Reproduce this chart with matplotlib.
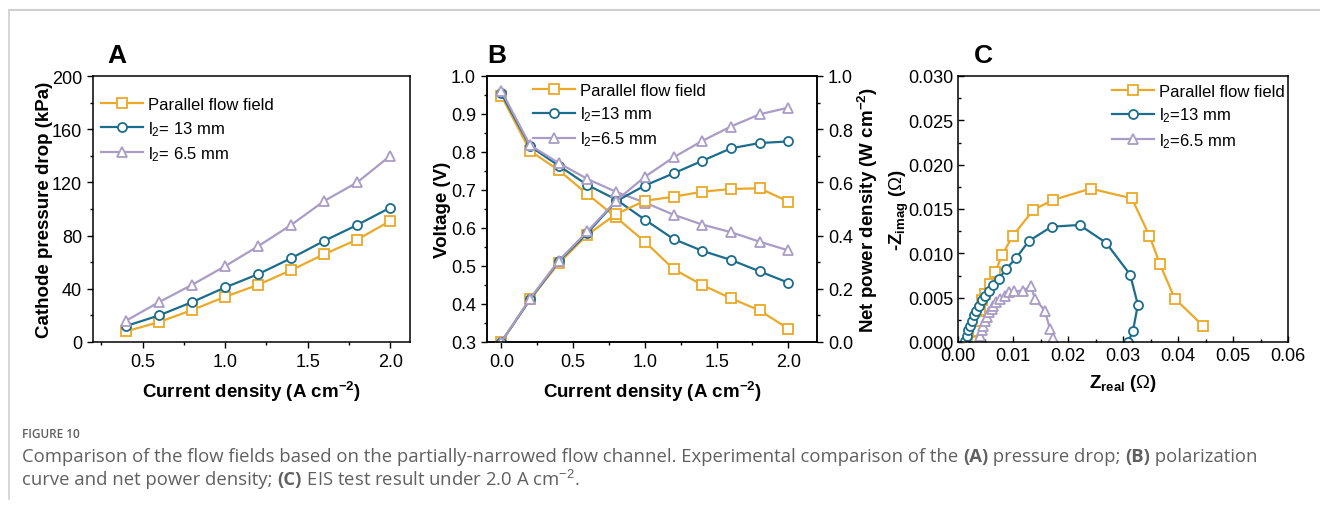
import matplotlib
matplotlib.use("Agg")
import matplotlib.pyplot as plt
from matplotlib.ticker import MultipleLocator
from matplotlib.lines import Line2D

plt.rcParams.update({
    "font.family": ["Liberation Sans", "DejaVu Sans"],
    "font.size": 11.5,
    "mathtext.fontset": "custom",
    "mathtext.rm": "Liberation Sans",
    "mathtext.bf": "Liberation Sans:bold",
    "mathtext.it": "Liberation Sans:italic",
    "axes.linewidth": 1.1,
    "lines.linewidth": 1.6,
    "lines.markersize": 6.5,
    "lines.markeredgewidth": 1.3,
})

C_PAR = "#EAA928"
C_13 = "#1C6D8C"
C_65 = "#A99CC6"

LABELS_A = ["Parallel flow field", "l$_2$= 13 mm", "l$_2$= 6.5 mm"]
LABELS_BC = ["Parallel flow field", "l$_2$=13 mm", "l$_2$=6.5 mm"]

# (A) cathode pressure drop, kPa
cur_a = [0.4, 0.6, 0.8, 1.0, 1.2, 1.4, 1.6, 1.8, 2.0]
dp_par = [8, 15, 24, 34, 43, 54, 66, 77, 91]
dp_13 = [12, 20, 30, 41, 51, 63, 76, 88, 101]
dp_65 = [16, 30, 43, 57, 72, 88, 106, 120, 140]

# (B) polarization + net power density
cur_b = [0.0, 0.2, 0.4, 0.6, 0.8, 1.0, 1.2, 1.4, 1.6, 1.8, 2.0]
v_par = [0.948, 0.803, 0.752, 0.689, 0.628, 0.564, 0.492, 0.450, 0.415, 0.383, 0.335]
v_13 = [0.954, 0.815, 0.764, 0.713, 0.675, 0.622, 0.571, 0.540, 0.516, 0.486, 0.456]
v_65 = [0.961, 0.818, 0.771, 0.729, 0.695, 0.667, 0.635, 0.609, 0.589, 0.564, 0.541]
p_par = [0.0, 0.160, 0.296, 0.403, 0.481, 0.531, 0.546, 0.565, 0.575, 0.578, 0.528]
p_13 = [0.0, 0.160, 0.303, 0.410, 0.529, 0.588, 0.634, 0.681, 0.728, 0.748, 0.754]
p_65 = [0.0, 0.163, 0.306, 0.416, 0.531, 0.621, 0.694, 0.756, 0.810, 0.856, 0.881]

# (C) EIS Nyquist at 2.0 A cm-2
zr_par = [0.0035, 0.0036, 0.0038, 0.0040, 0.0043, 0.0049, 0.0059, 0.0068, 0.0080, 0.0100,
          0.0137, 0.0172, 0.0241, 0.0316, 0.0348, 0.0367, 0.0394, 0.0446]
zi_par = [0.0000, 0.0012, 0.0024, 0.0036, 0.0047, 0.0054, 0.0065, 0.0079, 0.0098, 0.0120,
          0.0149, 0.0160, 0.0173, 0.0162, 0.0120, 0.0088, 0.0049, 0.0018]
zr_13 = [0.0013, 0.0016, 0.0019, 0.0022, 0.0025, 0.0029, 0.0033, 0.0038, 0.0043, 0.0049,
         0.0056, 0.0064, 0.0074, 0.0087, 0.0106, 0.0129, 0.0170, 0.0221, 0.0269, 0.0313,
         0.0327, 0.0318, 0.0309]
zi_13 = [0.0001, 0.0007, 0.0013, 0.0018, 0.0024, 0.0030, 0.0035, 0.0041, 0.0047, 0.0052,
         0.0058, 0.0064, 0.0071, 0.0082, 0.0095, 0.0114, 0.0130, 0.0132, 0.0112, 0.0076,
         0.0042, 0.0012, 0.0000]
zr_65 = [0.0040, 0.0043, 0.0046, 0.0049, 0.0052, 0.0057, 0.0061, 0.0064, 0.0070, 0.0076,
         0.0086, 0.0092, 0.0101, 0.0119, 0.0132, 0.0140, 0.0158, 0.0167, 0.0173]
zi_65 = [0.0007, 0.0013, 0.0018, 0.0024, 0.0028, 0.0034, 0.0037, 0.0041, 0.0045, 0.0049,
         0.0052, 0.0056, 0.0057, 0.0058, 0.0063, 0.0049, 0.0035, 0.0015, 0.0005]

W, H = 1320, 506
fig = plt.figure(figsize=(W / 100, H / 100), dpi=100)


def box(l, r, t=77, b=343):
    return [l / W, 1 - b / H, (r - l) / W, (b - t) / H]


def style(ax, direction="out"):
    ax.tick_params(which="both", direction=direction, width=1.0, labelsize=13)
    ax.tick_params(which="major", length=4.5)
    ax.tick_params(which="minor", length=2.5)


def series(ax, x, y, color, marker, label=None):
    ax.plot(x, y, color=color, marker=marker, mfc="white", mec=color, label=label)


def legend(ax, labels, **kw):
    handles = [Line2D([], [], color=c, marker=m, mfc="white", mec=c)
               for c, m in [(C_PAR, "s"), (C_13, "o"), (C_65, "^")]]
    ax.legend(handles, labels, frameon=False, fontsize=12, handlelength=2.5,
              handletextpad=0.3, labelspacing=0.4, borderaxespad=0.0, **kw)


bold = dict(fontweight="bold", fontsize=13.5)

# A
axA = fig.add_axes(box(93, 410))
series(axA, cur_a, dp_par, C_PAR, "s")
series(axA, cur_a, dp_13, C_13, "o")
series(axA, cur_a, dp_65, C_65, "^")
axA.set_xlim(0.2, 2.12)
axA.set_ylim(0, 200)
axA.xaxis.set_major_locator(MultipleLocator(0.5))
axA.xaxis.set_minor_locator(MultipleLocator(0.25))
axA.yaxis.set_major_locator(MultipleLocator(40))
axA.yaxis.set_minor_locator(MultipleLocator(20))
style(axA)
axA.set_xlabel(r"Current density (A cm$^{\mathbf{-2}}$)", labelpad=6, **bold)
axA.set_ylabel("Cathode pressure drop (kPa)", labelpad=-1, **bold)
legend(axA, LABELS_A, loc="upper left", bbox_to_anchor=(0.005, 0.945))

# B
axB = fig.add_axes(box(487, 817))
axB2 = axB.twinx()
series(axB, cur_b, v_par, C_PAR, "s")
series(axB, cur_b, v_13, C_13, "o")
series(axB, cur_b, v_65, C_65, "^")
series(axB2, cur_b, p_par, C_PAR, "s")
series(axB2, cur_b, p_13, C_13, "o")
series(axB2, cur_b, p_65, C_65, "^")
axB.set_xlim(-0.1, 2.2)
axB.set_ylim(0.3, 1.0)
axB2.set_ylim(0.0, 1.0)
axB.xaxis.set_major_locator(MultipleLocator(0.5))
axB.xaxis.set_minor_locator(MultipleLocator(0.25))
axB.yaxis.set_major_locator(MultipleLocator(0.1))
axB.yaxis.set_minor_locator(MultipleLocator(0.05))
axB2.yaxis.set_major_locator(MultipleLocator(0.2))
axB2.yaxis.set_minor_locator(MultipleLocator(0.1))
style(axB)
style(axB2)
axB.set_xlabel(r"Current density (A cm$^{\mathbf{-2}}$)", labelpad=6, **bold)
axB.set_ylabel("Voltage (V)", labelpad=0, **bold)
axB2.set_ylabel(r"Net power density (W cm$^{\mathbf{-2}}$)", labelpad=2, **bold)
legend(axB, LABELS_BC, loc="upper left", bbox_to_anchor=(0.12, 1.0))

# C
axC = fig.add_axes(box(958, 1288))
series(axC, zr_par, zi_par, C_PAR, "s")
series(axC, zr_13, zi_13, C_13, "o")
series(axC, zr_65, zi_65, C_65, "^")
axC.set_xlim(0, 0.06)
axC.set_ylim(0, 0.03)
axC.xaxis.set_major_locator(MultipleLocator(0.01))
axC.xaxis.set_minor_locator(MultipleLocator(0.005))
axC.yaxis.set_major_locator(MultipleLocator(0.005))
axC.yaxis.set_minor_locator(MultipleLocator(0.0025))
axC.xaxis.set_major_formatter(lambda v, p: f"{v:.2f}")
axC.yaxis.set_major_formatter(lambda v, p: f"{v:.3f}")
style(axC, "in")
axC.set_xlabel(r"Z$_{\mathbf{real}}$ ($\Omega$)", labelpad=6, **bold)
axC.set_ylabel(r"-Z$_{\mathbf{imag}}$ ($\Omega$)", labelpad=-2, **bold)
legend(axC, LABELS_BC, loc="upper right", bbox_to_anchor=(1.01, 0.995))

for x, s in [(117, "A"), (497, "B"), (983, "C")]:
    fig.text(x / W, 1 - 56 / H, s, fontsize=19, fontweight="bold", ha="center", va="center")

# page frame lines
fig.add_artist(Line2D([9 / W, 1], [1 - 11 / H] * 2, color="#d0d0d0", lw=1.5))
fig.add_artist(Line2D([9 / W] * 2, [1 - 11 / H, 1 - 500 / H], color="#d0d0d0", lw=1.2))

# caption
cap = dict(family=["Open Sans", "DejaVu Sans"], color="#606060")
fig.text(22 / W, 1 - 435 / H, "FIGURE 10", fontsize=8.5, fontweight="semibold",
         va="center", **cap)


def runs(y, parts, x0=22):
    fig.canvas.draw()
    r = fig.canvas.get_renderer()
    x = x0
    for s, w in parts:
        t = fig.text(x / W, 1 - y / H, s, fontsize=13.3, va="center", fontweight=w, **cap)
        x = t.get_window_extent(r).x1


runs(457, [("Comparison of the flow fields based on the partially-narrowed flow channel. "
            "Experimental comparison of the ", "normal"), ("(A)", "bold"),
           (" pressure drop; ", "normal"), ("(B)", "bold"), (" polarization", "normal")])
runs(480, [("curve and net power density; ", "normal"), ("(C)", "bold"),
           (r" EIS test result under 2.0 A cm$^{-2}$.", "normal")])

fig.savefig("out.png", dpi=100)
